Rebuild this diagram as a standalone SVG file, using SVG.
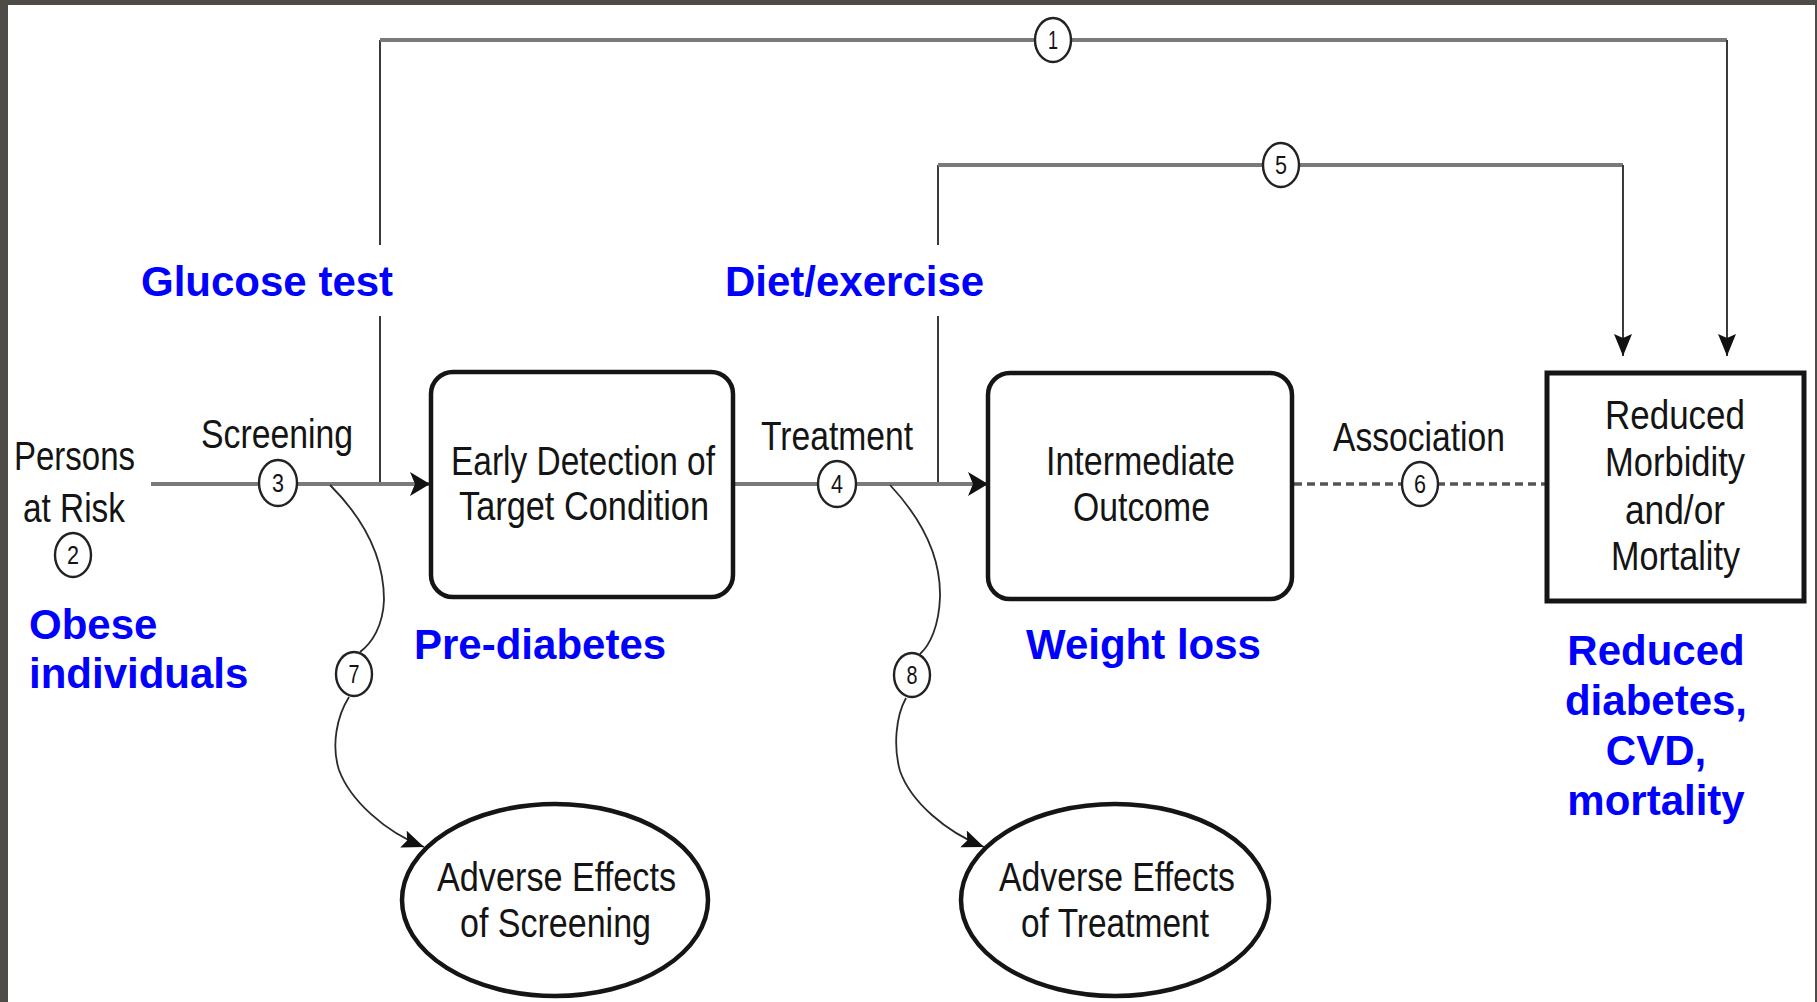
<svg xmlns="http://www.w3.org/2000/svg" width="1817" height="1002" viewBox="0 0 1817 1002">
  <defs>
    <style>
      .lbl { font-family: "Liberation Sans", Arial, sans-serif; font-size: 41px; fill: #141414; }
      .num { font-family: "Liberation Sans", Arial, sans-serif; font-size: 26px; fill: #141414; text-anchor: middle; }
      .blue { font-family: "Liberation Sans", Arial, sans-serif; font-weight: bold; font-size: 42px; fill: #0000ff; }
      .box { fill: #ffffff; stroke: #151515; stroke-width: 4.5; }
      .oval { fill: #ffffff; stroke: #151515; stroke-width: 4.5; }
      .flow { fill: none; stroke: #7a7a7a; stroke-width: 4; }
      .thin { fill: none; stroke: #3a3a3a; stroke-width: 2; }
      .curve { fill: none; stroke: #2a2a2a; stroke-width: 1.8; }
      .dash { fill: none; stroke: #555555; stroke-width: 3.5; stroke-dasharray: 8 5; }
      .badge { fill: #ffffff; stroke: #222222; stroke-width: 2.4; }
    </style>
    <marker id="arrR" markerUnits="userSpaceOnUse" markerWidth="22" markerHeight="26" refX="20" refY="12" orient="auto">
      <path d="M0,0 L20,12 L0,24 L5,12 Z" fill="#111111"/>
    </marker>
    <marker id="arrS" markerUnits="userSpaceOnUse" markerWidth="24" markerHeight="20" refX="22" refY="9" orient="auto">
      <path d="M0,0 L22,9 L0,18 L4,9 Z" fill="#111111"/>
    </marker>
  </defs>

  <!-- background and frame -->
  <rect x="0" y="0" width="1817" height="1002" fill="#ffffff"/>
  <rect x="0" y="0" width="8" height="1002" fill="#4f4b46"/>
  <rect x="0" y="0" width="1817" height="5" fill="#4f4b46"/>
  <rect x="1815" y="0" width="2" height="1002" fill="#4f4b46"/>

  <!-- connectors -->
  <g id="connectors">
    <!-- path 1 -->
    <path class="thin" d="M380,484 V40"/>
    <path class="flow" d="M380,40 H1727"/>
    <path class="thin" d="M1727,40 V356" marker-end="url(#arrS)"/>
    <!-- path 5 -->
    <path class="thin" d="M938,484 V165"/>
    <path class="flow" d="M938,165 H1623"/>
    <path class="thin" d="M1623,165 V356" marker-end="url(#arrS)"/>
    <!-- screening -->
    <path class="flow" d="M151,484 H430" marker-end="url(#arrR)"/>
    <!-- treatment -->
    <path class="flow" d="M733,484 H988" marker-end="url(#arrR)"/>
    <!-- association -->
    <path class="dash" d="M1294,484 H1545"/>
    <!-- adverse effects curves -->
    <path class="curve" d="M330,485 C360,515 384,552 384,600 C383,626 372,643 360,652"/>
    <path class="curve" d="M349,697 C337,716 331,745 339,770 C350,800 385,832 424,847" marker-end="url(#arrS)"/>
    <path class="curve" d="M890,485 C918,515 941,552 940,597 C939,626 930,645 920,654"/>
    <path class="curve" d="M906,698 C896,716 893,746 900,771 C911,802 946,832 984,847" marker-end="url(#arrS)"/>

    <!-- white backing for blue labels that cross the lines -->
    <rect x="128" y="245" width="278" height="71" fill="#ffffff"/>
    <rect x="714" y="245" width="284" height="71" fill="#ffffff"/>

    <!-- numbered badges -->
    <g id="badge1"><ellipse class="badge" cx="1053" cy="40" rx="18" ry="22"/><text class="num" x="1053" y="49" textLength="10" lengthAdjust="spacingAndGlyphs">1</text></g>
    <g id="badge5"><ellipse class="badge" cx="1281" cy="165" rx="18" ry="22"/><text class="num" x="1281" y="174" textLength="12" lengthAdjust="spacingAndGlyphs">5</text></g>
    <g id="badge3"><ellipse class="badge" cx="278" cy="483" rx="19" ry="23"/><text class="num" x="278" y="492" textLength="12" lengthAdjust="spacingAndGlyphs">3</text></g>
    <g id="badge4"><ellipse class="badge" cx="837" cy="484" rx="19" ry="23"/><text class="num" x="837" y="493" textLength="12" lengthAdjust="spacingAndGlyphs">4</text></g>
    <g id="badge6"><ellipse class="badge" cx="1420" cy="484" rx="18" ry="22"/><text class="num" x="1420" y="493" textLength="12" lengthAdjust="spacingAndGlyphs">6</text></g>
    <g id="badge2"><ellipse class="badge" cx="73" cy="555" rx="18" ry="22"/><text class="num" x="73" y="564" textLength="12" lengthAdjust="spacingAndGlyphs">2</text></g>
    <g id="badge7"><ellipse class="badge" cx="354" cy="674" rx="18" ry="22"/><text class="num" x="354" y="683" textLength="11" lengthAdjust="spacingAndGlyphs">7</text></g>
    <g id="badge8"><ellipse class="badge" cx="912" cy="675" rx="18" ry="22"/><text class="num" x="912" y="684" textLength="11" lengthAdjust="spacingAndGlyphs">8</text></g>

    <!-- connector labels -->
    <text class="lbl" x="201" y="448" textLength="152" lengthAdjust="spacingAndGlyphs">Screening</text>
    <text class="lbl" x="761" y="450" textLength="152" lengthAdjust="spacingAndGlyphs">Treatment</text>
    <text class="lbl" x="1333" y="451" textLength="172" lengthAdjust="spacingAndGlyphs">Association</text>
  </g>

  <!-- nodes -->
  <g id="persons">
    <text class="lbl" x="14" y="470" textLength="121" lengthAdjust="spacingAndGlyphs">Persons</text>
    <text class="lbl" x="23" y="522" textLength="102" lengthAdjust="spacingAndGlyphs">at Risk</text>
  </g>

  <g id="early-detection">
    <rect class="box" x="431" y="372" width="302" height="225" rx="22" ry="22"/>
    <text class="lbl" x="451" y="475" textLength="264" lengthAdjust="spacingAndGlyphs">Early Detection of</text>
    <text class="lbl" x="459" y="520" textLength="250" lengthAdjust="spacingAndGlyphs">Target Condition</text>
  </g>

  <g id="intermediate-outcome">
    <rect class="box" x="988" y="373" width="304" height="226" rx="22" ry="22"/>
    <text class="lbl" x="1046" y="475" textLength="189" lengthAdjust="spacingAndGlyphs">Intermediate</text>
    <text class="lbl" x="1073" y="521" textLength="137" lengthAdjust="spacingAndGlyphs">Outcome</text>
  </g>

  <g id="reduced-morbidity">
    <rect class="box" x="1547" y="373" width="257" height="228" style="stroke-width:5"/>
    <text class="lbl" x="1605" y="429" textLength="140" lengthAdjust="spacingAndGlyphs">Reduced</text>
    <text class="lbl" x="1605" y="476" textLength="140" lengthAdjust="spacingAndGlyphs">Morbidity</text>
    <text class="lbl" x="1625" y="524" textLength="100" lengthAdjust="spacingAndGlyphs">and/or</text>
    <text class="lbl" x="1611" y="570" textLength="129" lengthAdjust="spacingAndGlyphs">Mortality</text>
  </g>

  <g id="adverse-screening">
    <ellipse class="oval" cx="555" cy="900" rx="153" ry="96"/>
    <text class="lbl" x="437" y="891" textLength="239" lengthAdjust="spacingAndGlyphs">Adverse Effects</text>
    <text class="lbl" x="460" y="937" textLength="191" lengthAdjust="spacingAndGlyphs">of Screening</text>
  </g>

  <g id="adverse-treatment">
    <ellipse class="oval" cx="1115" cy="900" rx="154" ry="96"/>
    <text class="lbl" x="999" y="891" textLength="236" lengthAdjust="spacingAndGlyphs">Adverse Effects</text>
    <text class="lbl" x="1021" y="937" textLength="188" lengthAdjust="spacingAndGlyphs">of Treatment</text>
  </g>

  <!-- blue annotations -->
  <g id="annotations">
    <text class="blue" x="141" y="296">Glucose test</text>
    <text class="blue" x="725" y="296">Diet/exercise</text>
    <text class="blue" x="29" y="639">Obese</text>
    <text class="blue" x="29" y="688">individuals</text>
    <text class="blue" x="414" y="659">Pre-diabetes</text>
    <text class="blue" x="1026" y="659">Weight loss</text>
    <text class="blue" x="1656" y="665" text-anchor="middle">Reduced</text>
    <text class="blue" x="1656" y="715" text-anchor="middle">diabetes,</text>
    <text class="blue" x="1656" y="765" text-anchor="middle">CVD,</text>
    <text class="blue" x="1656" y="815" text-anchor="middle">mortality</text>
  </g>
</svg>
